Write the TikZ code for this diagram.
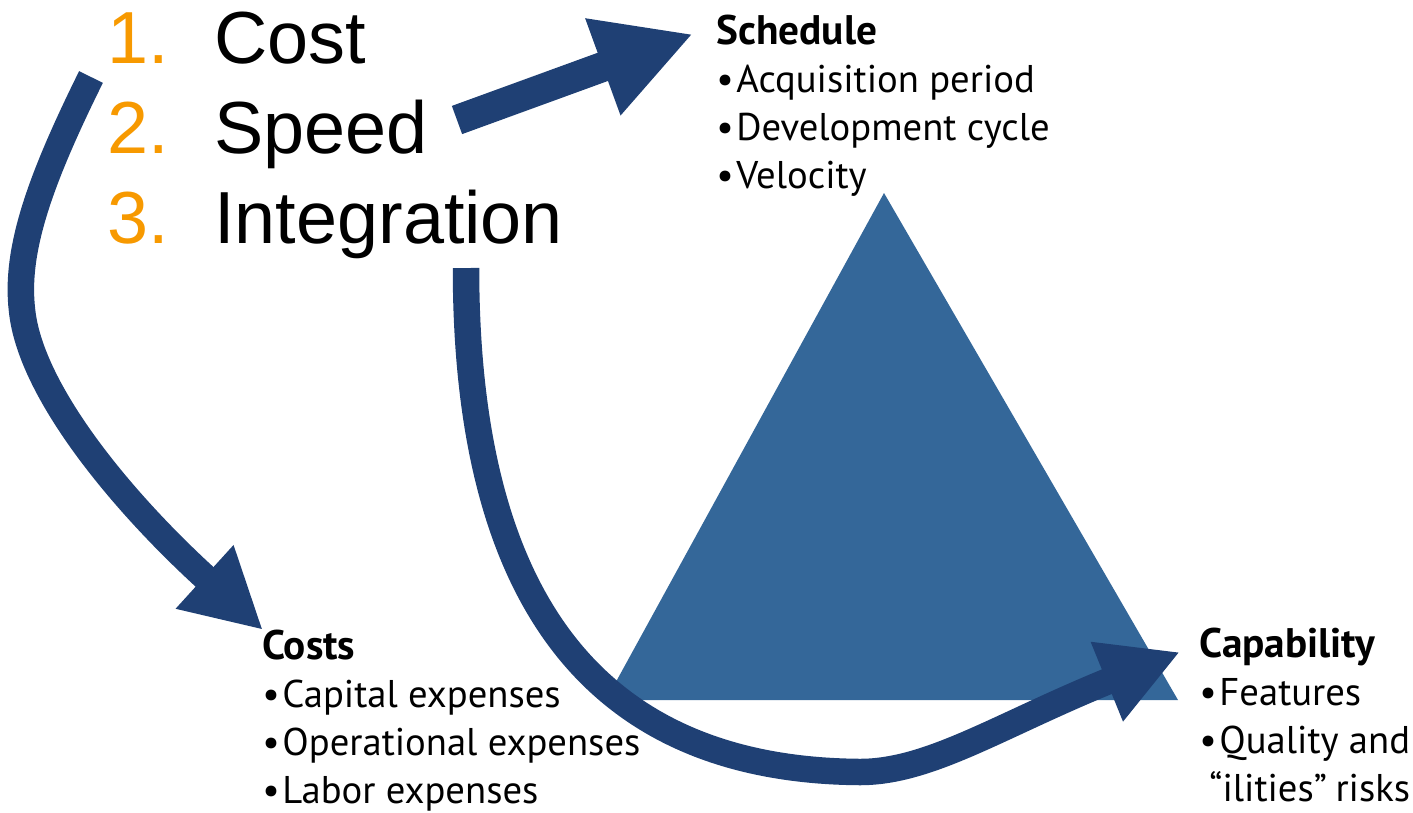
\documentclass[tikz,border=0pt]{standalone}
\usepackage{fontspec}
\setmainfont{PT Sans}
\newfontfamily\listfont{Liberation Sans}
\usetikzlibrary{arrows.meta}
\definecolor{navy}{RGB}{31,64,116}
\definecolor{steel}{RGB}{52,103,153}
\definecolor{amber}{RGB}{247,153,0}
\newcommand{\bul}{\textbullet\hspace{1.5pt}}
\newcommand{\head}[1]{{\fontsize{23.5}{27.3}\selectfont\textbf{#1}}}
\tikzset{
every node/.style={inner sep=0pt, anchor=base west},
listtext/.style={font=\listfont\fontsize{42}{42}\selectfont},
block/.style={font=\fontsize{22}{27.3}\selectfont, align=left},
bigarrow/.style={draw=navy, line width=#1},
bigarrow/.default=0.53cm
}

\begin{document}
\begin{tikzpicture}[x=0.02cm, y=-0.02cm]
\useasboundingbox (0,0) rectangle (1413,812);
\fill[steel] (884,193) -- (606,700) -- (1178,700) -- cycle;

\foreach \i/\w/\y in {1/Cost/63, 2/Speed/153, 3/Integration/243} {
\node[listtext, text=amber] (n\i) at (107,\y) {\i.};
\node[listtext] (w\i) at (214,\y) {\w};
}

\node[block] (sched) at (716,188) {\head{Schedule}\\ \bul Acquisition period\\ \bul Development cycle\\ \bul Velocity};
\node[block] (costs) at (262,803) {\head{Costs}\\ \bul Capital expenses\\ \bul Operational expenses\\ \bul Labor expenses};
\node[block] (capab) at (1199,801) {\head{Capability}\\ \bul Features\\ \bul Quality and\\ \hspace{0.2cm}“ilities”\hspace{-1pt} risks};

\coordinate (s1) at (91,77);
\coordinate (s2) at (457,120);
\coordinate (s3) at (466,268);
\coordinate (t1) at (263,630);
\coordinate (t2) at (693,34);
\coordinate (t3) at (1180,652);

\draw[bigarrow, -{Triangle[length=1.58cm, width=1.6cm]}] (s1) .. controls (40,180) and (15,250) .. (22,310) .. controls (30,390) and (120,500) .. (t1);
\draw[bigarrow=0.6cm, -{Triangle[length=1.92cm, width=1.92cm]}] (s2) -- (t2);
\draw[bigarrow, -{Triangle[length=1.58cm, width=1.6cm]}] (s3) .. controls (466,580) and (580,770) .. (860,772) .. controls (930,772) and (1000,725) .. (t3);
\end{tikzpicture}
\end{document}
